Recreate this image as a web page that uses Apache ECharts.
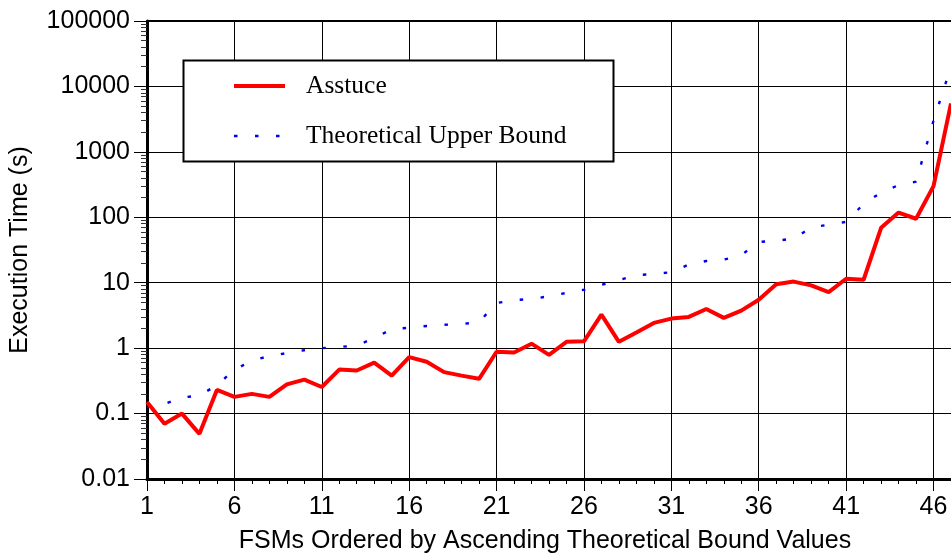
<!DOCTYPE html>
<html>
<head>
<meta charset="utf-8">
<script src="https://cdn.jsdelivr.net/npm/echarts@6/dist/echarts.min.js"></script>
<style>html,body{margin:0;padding:0;background:#fff}#chart{width:951px;height:559px}</style>
</head>
<body>
<div id="chart"></div>
<script>
// FSM index (x)
const fsmIndex = [1,2,3,4,5,6,7,8,9,10,11,12,13,14,15,16,17,18,19,20,21,22,23,24,25,26,27,28,29,30,31,32,33,34,35,36,37,38,39,40,41,42,43,44,45,46,47];
// Asstuce execution time (s)
const assstuceTimes = [0.15,0.07,0.10,0.049,0.23,0.18,0.20,0.18,0.28,0.33,0.255,0.47,0.455,0.60,0.38,0.73,0.62,0.43,0.38,0.34,0.88,0.86,1.17,0.79,1.25,1.27,3.25,1.25,1.74,2.43,2.83,3.0,3.97,2.9,3.75,5.5,9.5,10.4,9.1,7.2,11.5,11.1,69,118,95,300,5500];
// Theoretical upper bound (s)
const upperBoundTimes = [0.125,0.14,0.175,0.19,0.27,0.47,0.64,0.76,0.84,0.93,1.0,1.04,1.1,1.42,1.95,2.05,2.18,2.28,2.33,2.5,4.9,5.4,5.65,6.2,7.0,7.8,9.3,10.9,13.1,13.5,14.5,19,21.5,22.5,26.3,42,44,47,70,77,85,160,240,310,350,3000,20000];
const seriesNames = ['Asstuce', 'Theoretical Upper Bound'];
const xTickLabels = [1,6,11,16,21,26,31,36,41,46];
const yTickLabels = [0.01,0.1,1,10,100,1000,10000,100000];

const minorYTicks = [];
for (let k = 0; k < yTickLabels.length - 1; k++) {
  for (let m = 2; m <= 9; m++) minorYTicks.push(+(m * yTickLabels[k]).toPrecision(3));
}

const sans = 'Liberation Sans, Arial, sans-serif';
const serif = 'Liberation Serif, Times New Roman, serif';
const redStyle = {color: '#ff0000', width: 4};
const blueStyle = {color: '#0000ee', width: 2.4, type: [3.5, 17.5]};

const chart = echarts.init(document.getElementById('chart'), null, {renderer: 'canvas'});
chart.setOption({
  animation: false,
  backgroundColor: '#fff',
  grid: {left: 146, top: 21, right: -2, bottom: 76, containLabel: false},
  xAxis: [{
    type: 'value', min: 1, max: 47, interval: 5,
    name: 'FSMs Ordered by Ascending Theoretical Bound Values',
    nameLocation: 'middle', nameGap: 50,
    nameTextStyle: {fontFamily: sans, fontSize: 25, color: '#000', padding: [0, 8, 0, 0]},
    axisLine: {show: true, onZero: false, lineStyle: {color: '#000', width: 3}},
    axisTick: {show: true, length: 12, lineStyle: {color: '#000', width: 1}},
    minorTick: {show: true, splitNumber: 5, length: 5, lineStyle: {color: '#000', width: 1}},
    axisLabel: {fontFamily: sans, fontSize: 25, color: '#000', margin: 16, showMaxLabel: false,
      formatter: v => (xTickLabels.indexOf(v) >= 0 ? String(v) : '')},
    splitLine: {show: true, lineStyle: {color: '#000', width: 1}}
  }, {
    type: 'value', min: 1, max: 47, position: 'top',
    axisLine: {show: true, onZero: false, lineStyle: {color: '#000', width: 2}},
    axisTick: {show: false}, axisLabel: {show: false}, splitLine: {show: false}
  }],
  yAxis: [{
    type: 'log', logBase: 10, min: 0.01, max: 100000, splitNumber: 7,
    name: 'Execution Time (s)', nameLocation: 'middle', nameGap: 114,
    nameTextStyle: {fontFamily: sans, fontSize: 25, color: '#000'},
    axisLine: {show: true, onZero: false, lineStyle: {color: '#000', width: 3}},
    axisTick: {show: true, length: 13, lineStyle: {color: '#000', width: 1}},
    axisLabel: {fontFamily: sans, fontSize: 25, color: '#000', margin: 17,
      formatter: v => (v >= 1 ? String(Math.round(v)) : String(parseFloat(v.toPrecision(1))))},
    splitLine: {show: true, lineStyle: {color: '#000', width: 1}}
  }, {
    type: 'log', logBase: 10, min: 0.01, max: 100000, position: 'left',
    axisLine: {show: false},
    axisTick: {show: true, length: 6, customValues: minorYTicks, lineStyle: {color: '#333', width: 1}},
    axisLabel: {show: false},
    splitLine: {show: false}
  }],
  legend: {
    orient: 'vertical', left: 232, top: 72, padding: 0,
    itemWidth: 51, itemHeight: 14, itemGap: 22, z: 10,
    data: [
      {name: seriesNames[0], lineStyle: {width: 4, color: '#ff0000'}},
      {name: seriesNames[1], lineStyle: {width: 2.4, color: '#0000ee', type: [3.5, 17.5]}}
    ],
    itemStyle: {opacity: 0},
    textStyle: {fontFamily: serif, fontSize: 25.5, color: '#000', lineHeight: 28, padding: [0, 0, 0, 16]}
  },
  graphic: [{
    type: 'rect', z: 5, silent: true,
    shape: {x: 183.5, y: 60.5, width: 430, height: 101},
    style: {fill: '#fff', stroke: '#000', lineWidth: 2}
  }],
  series: [{
    name: seriesNames[0], type: 'line', xAxisIndex: 0, yAxisIndex: 0,
    symbol: 'none', z: 3,
    data: fsmIndex.map((x, i) => [x, assstuceTimes[i]]),
    lineStyle: redStyle,
    itemStyle: {color: '#ff0000'}
  }, {
    name: seriesNames[1], type: 'line', xAxisIndex: 0, yAxisIndex: 0,
    symbol: 'none', z: 2,
    data: fsmIndex.map((x, i) => [x, upperBoundTimes[i]]),
    lineStyle: blueStyle,
    itemStyle: {color: '#0000ee'}
  }]
});
</script>
</body>
</html>
